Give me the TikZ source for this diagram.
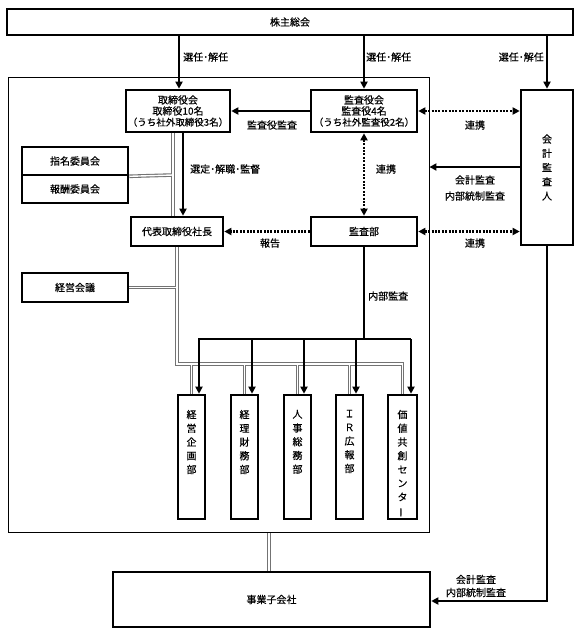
\documentclass[tikz,border=0pt]{standalone}
\usepackage{fontspec}
\setmainfont{Noto Sans CJK JP}[FakeBold=0.4]
\usepackage{graphicx}
\usetikzlibrary{arrows.meta,backgrounds}
\tikzset{
  box/.style={draw, line width=2.6pt, fill=white, inner sep=0pt, align=center,
    font=\fontsize{10}{11}\selectfont},
  thinbox/.style={draw, line width=0.9pt, inner sep=0pt},
  arr/.style={line width=1.8pt, -{Triangle[length=7pt,width=7pt]}},
  dotline/.style={line width=2.3pt, dash pattern=on 2pt off 1.4pt},
  dotboth/.style={dotline, {Triangle[length=7pt,width=7pt]}-{Triangle[length=7pt,width=7pt]}},
  dotone/.style={dotline, -{Triangle[length=7pt,width=7pt]}},
  lbl/.style={font=\fontsize{10}{14}\selectfont, inner sep=0pt, align=center},
  vtext/.style={font=\fontsize{10}{13.75}\selectfont, inner sep=0pt, align=center, anchor=north},
  dept/.style={draw, line width=2.6pt, fill=white, inner sep=0pt, minimum width=27pt, minimum height=124pt},
}
\begin{document}
\begin{tikzpicture}[x=1pt,y=-1pt]
\useasboundingbox (0,0) rectangle (581,635);
% outer frame
\node[thinbox, minimum width=421pt, minimum height=455pt] (org) at (218.5,304.5) {};
% boxes
\node[box, minimum width=566pt, minimum height=26pt] (soukai) at (290,22) {株主総会};
\node[box, minimum width=104pt, minimum height=42pt] (tori) at (178,111)
  {取締役会\\取締役10名\\{\fontsize{9.5}{11}\selectfont（うち社外取締役3名）}};
\node[box, minimum width=106pt, minimum height=42pt] (kansakai) at (364,111)
  {監査役会\\監査役4名\\{\fontsize{9.5}{11}\selectfont（うち社外監査役2名）}};
\node[box, minimum width=52pt, minimum height=155pt, font=\fontsize{10}{14.25}\selectfont] (kaikei) at (547,167.5)
  {会\\計\\監\\査\\人};
\node[box, minimum width=106pt, minimum height=28pt] (shimei) at (75,161) {指名委員会};
\node[box, minimum width=106pt, minimum height=28pt] (houshu) at (75,189) {報酬委員会};
\node[box, minimum width=92pt, minimum height=29pt] (shacho) at (177,231.5) {代表取締役社長};
\node[box, minimum width=106pt, minimum height=29pt] (kansabu) at (364,231.5) {監査部};
\node[box, minimum width=106pt, minimum height=29pt] (keiei) at (75,287.5) {経営会議};
\node[dept] (d1) at (191.5,457) {};
\node[dept] (d2) at (244.5,457) {};
\node[dept] (d3) at (297.5,457) {};
\node[dept] (d4) at (349.5,457) {};
\node[dept, minimum width=29pt] (d5) at (402.5,457) {};
\node[vtext] (t1) at ([yshift=-16pt]d1.north) {経\\営\\企\\画\\部};
\node[vtext] (t2) at ([yshift=-16pt]d2.north) {経\\理\\財\\務\\部};
\node[vtext] (t3) at ([yshift=-16pt]d3.north) {人\\事\\総\\務\\部};
\node[vtext] (t4) at ([yshift=-16pt]d4.north) {Ｉ\\Ｒ\\広\\報\\部};
\node[vtext] (t5) at ([yshift=-16pt]d5.north) {価\\値\\共\\創\\セ\\ン\\タ\\\rotatebox[origin=c]{90}{ー}};
\node[box, minimum width=317pt, minimum height=55pt] (jigyo) at (271.5,599.5) {事業子会社};

% double lines (background)
\begin{scope}[on background layer]
\foreach \w/\c in {3.6pt/black!55, 1.4pt/white}{
  \draw[line width=\w, draw=\c, line join=miter] (173,0 |- tori.south) -- (173,0 |- shacho.north);
  \draw[line width=\w, draw=\c] (shimei.south east) -- (173,175);
  \draw[line width=\w, draw=\c, line join=miter] (shacho.south) -- (177,364) -- (402.5,364) -- (d5.north);
  \draw[line width=\w, draw=\c] (keiei.east) -- (177,287.5);
  \draw[line width=\w, draw=\c] (191.5,364) -- (d1.north);
  \draw[line width=\w, draw=\c] (244.5,364) -- (d2.north);
  \draw[line width=\w, draw=\c] (297.5,364) -- (d3.north);
  \draw[line width=\w, draw=\c] (349.5,364) -- (d4.north);
  \draw[line width=\w, draw=\c] (269,0 |- org.south) -- (269,0 |- jigyo.north);
}
\end{scope}

% arrows from shareholders meeting
\draw[arr] (179,0 |- soukai.south) -- (179,0 |- tori.north);
\draw[arr] (kansakai.north |- soukai.south) -- (kansakai.north);
\draw[arr] (kaikei.north |- soukai.south) -- (kaikei.north);
\node[lbl, anchor=west] (l1) at (183,57) {選任･解任};
\node[lbl, anchor=west] (l2) at (366,57) {選任･解任};
\node[lbl, anchor=east] (l3) at (544,57) {選任･解任};

% audit arrows
\draw[arr] (kansakai.west) -- (tori.east);
\node[lbl] (l4) at (272,125) {監査役監査};
\draw[dotboth] (kansakai.east) -- (kaikei.west |- kansakai.east);
\node[lbl] (l5) at (475,125) {連携};
\draw[dotboth] (kansakai.south) -- (kansabu.north);
\node[lbl] (l6) at (386,169) {連携};
\draw[arr] (kaikei.west |- 0,167) -- (org.east |- 0,167);
\node[lbl, font=\fontsize{10}{16}\selectfont] (l7) at (475,188) {会計監査\\内部統制監査};
\draw[dotboth] (kansabu.east) -- (kaikei.west |- kansabu.east);
\node[lbl] (l8) at (475,243) {連携};
\draw[dotone] (kansabu.west) -- (shacho.east);
\node[lbl] (l9) at (270,243) {報告};
\draw[arr] (183,0 |- tori.south) -- (183,0 |- shacho.north);
\node[lbl, anchor=west] (l10) at (190,169) {選定･解職･監督};

% internal audit
\draw[line width=1.8pt, line join=miter] (kansabu.south) -- (364,339);
\draw[line width=1.8pt] (198,339) -- (411,339);
\node[lbl, anchor=west] (l11) at (368,296) {内部監査};
\draw[arr] (199,339) -- (199,0 |- d1.north);
\draw[arr] (252,339) -- (252,0 |- d2.north);
\draw[arr] (304,339) -- (304,0 |- d3.north);
\draw[arr] (356,339) -- (356,0 |- d4.north);
\draw[arr] (411,339) -- (411,0 |- d5.north);

% auditor to subsidiaries
\draw[line width=1.8pt, line join=miter, -{Triangle[length=7pt,width=7pt]}]
  (kaikei.south) -- (547,601) -- (jigyo.east |- 0,601);
\node[lbl, font=\fontsize{10}{13}\selectfont] (l12) at (476,586) {会計監査\\内部統制監査};
\end{tikzpicture}
\end{document}
